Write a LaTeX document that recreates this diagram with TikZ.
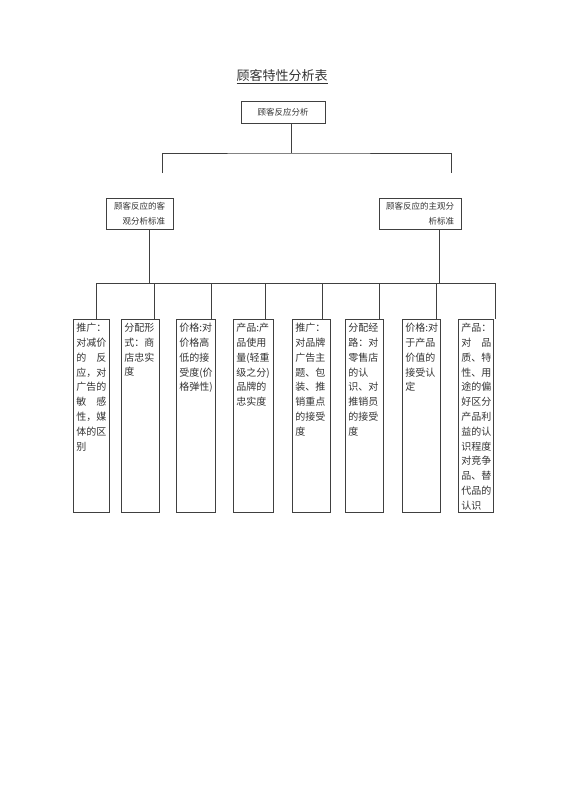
\documentclass[tikz,border=0pt]{standalone}
\usepackage{fontspec}
\setmainfont{Noto Sans CJK SC}
\definecolor{viiva}{rgb}{0.25, 0.25, 0.25}
\definecolor{teksti}{rgb}{0.2, 0.2, 0.2}
\newcommand{\levita}[2]{\makebox[30pt]{#1\hfill#2}}

\begin{document}
\begin{tikzpicture}[x=1pt, y=-1pt,
	laatikko/.style={draw=viiva, line width=0.8pt, inner sep=0pt, text=teksti, font=\fontsize{8.5}{15}\selectfont},
	lehti/.style={draw=viiva, line width=0.8pt, anchor=north, minimum height=193pt, inner sep=0pt},
	lehtiteksti/.style={anchor=north west, inner xsep=3.5pt, inner ysep=4pt, text width=32pt, align=left, text=teksti, font=\fontsize{10}{14.8}\selectfont},
	yhteys/.style={draw=viiva, line width=0.8pt}]
				\useasboundingbox (0,0) rectangle (566,800);
				\node[text=teksti, font=\fontsize{13}{15}\selectfont] (otsikko) at (282,77) {\underline{顾客特性分析表}};
				\node[laatikko, minimum width=84pt, minimum height=22pt] (juuri) at (283,112) {顾客反应分析};
				\node[laatikko, minimum width=67pt, minimum height=31pt, align=right] (objektiivinen) at (139.5,213.5) {顾客反应的客\\观分析标准};
				\node[laatikko, minimum width=82pt, minimum height=31pt, align=right] (subjektiivinen) at (420,213.5) {顾客反应的主观分\\析标准};
				% alimmat laatikot
				\node[lehti, minimum width=36pt] (b1) at (91,319) {};
				\node[lehti, minimum width=38pt] (b2) at (140,319) {};
				\node[lehti, minimum width=39pt] (b3) at (195.5,319) {};
				\node[lehti, minimum width=40pt] (b4) at (253,319) {};
				\node[lehti, minimum width=38pt] (b5) at (311,319) {};
				\node[lehti, minimum width=38pt] (b6) at (364,319) {};
				\node[lehti, minimum width=38pt] (b7) at (421,319) {};
				\node[lehti, minimum width=35pt] (b8) at (475.5,319) {};
				\node[lehtiteksti] (t1) at (b1.north west) {推广：\\对减价\\\levita{的}{反}\\应，对\\广告的\\\levita{敏}{感}\\性，媒\\体的区\\别};
				\node[lehtiteksti] (t2) at (b2.north west) {分配形\\式：商\\店忠实\\度};
				\node[lehtiteksti] (t3) at (b3.north west) {价格:对\\价格高\\低的接\\受度(价\\格弹性)};
				\node[lehtiteksti] (t4) at (b4.north west) {产品:产\\品使用\\量(轻重\\级之分)\\品牌的\\忠实度};
				\node[lehtiteksti] (t5) at (b5.north west) {推广：\\对品牌\\广告主\\题、包\\装、推\\销重点\\的接受\\度};
				\node[lehtiteksti] (t6) at (b6.north west) {分配经\\路：对\\零售店\\的认\\识、对\\推销员\\的接受\\度};
				\node[lehtiteksti] (t7) at (b7.north west) {价格:对\\于产品\\价值的\\接受认\\定};
				\node[lehtiteksti] (t8) at (b8.north west) {产品：\\\levita{对}{品}\\质、特\\性、用\\途的偏\\好区分\\产品利\\益的认\\识程度\\对竞争\\品、替\\代品的\\认识};
				% yhteydet
				\coordinate (j1) at (291,153);
				\coordinate (v1) at (162,173);
				\coordinate (v2) at (451,173);
				\coordinate (a1) at (149,283);
				\coordinate (a2) at (439,283);
				\coordinate (d1) at (96,283);
				\coordinate (d2) at (154,283);
				\coordinate (d3) at (211,283);
				\coordinate (d4) at (265,283);
				\coordinate (d5) at (322,283);
				\coordinate (d6) at (379,283);
				\coordinate (d7) at (436,283);
				\coordinate (d8) at (495,283);
				\draw[yhteys] (juuri.south -| j1) -- (j1);
				\draw[yhteys] (v1) |- (j1) -| (v2);
				\draw[yhteys] (objektiivinen.south -| a1) -- (a1);
				\draw[yhteys] (subjektiivinen.south -| a2) -- (a2);
				\draw[yhteys] (d1) -- (d8);
				\draw[yhteys] (d1) -- (d1 |- b1.north);
				\draw[yhteys] (d2) -- (d2 |- b2.north);
				\draw[yhteys] (d3) -- (d3 |- b3.north);
				\draw[yhteys] (d4) -- (d4 |- b4.north);
				\draw[yhteys] (d5) -- (d5 |- b5.north);
				\draw[yhteys] (d6) -- (d6 |- b6.north);
				\draw[yhteys] (d7) -- (d7 |- b7.north);
				\draw[yhteys] (d8) -- (d8 |- b8.north);
			\end{tikzpicture}
\end{document}
